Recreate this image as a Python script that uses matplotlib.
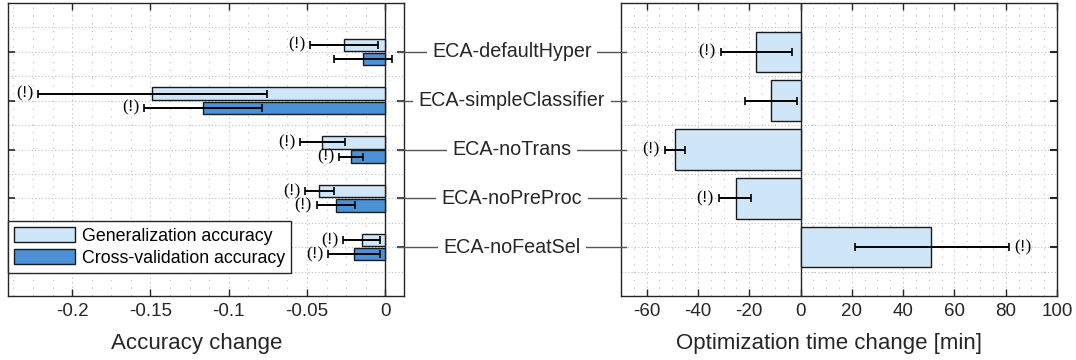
import numpy as np
import matplotlib
matplotlib.use("Agg")
import matplotlib.pyplot as plt
from matplotlib.patches import Patch
from matplotlib.lines import Line2D

plt.rcParams['font.family'] = ['Liberation Sans', 'DejaVu Sans']
plt.rcParams['axes.unicode_minus'] = False

# ====== data ======
categories = ["ECA-defaultHyper", "ECA-simpleClassifier", "ECA-noTrans",
              "ECA-noPreProc", "ECA-noFeatSel"]

# accuracy change (generalization / cross-validation), with CI bounds
gen_acc = [-0.0263, -0.1487, -0.0402, -0.0421, -0.0149]
gen_lo  = [-0.0480, -0.2216, -0.0545, -0.0513, -0.0267]
gen_hi  = [-0.0045, -0.0758, -0.0256, -0.0325, -0.0032]
gen_flag = [True, True, True, True, True]

cv_acc = [-0.0143, -0.1167, -0.0218, -0.0314, -0.0199]
cv_lo  = [-0.0330, -0.1540, -0.0293, -0.0438, -0.0363]
cv_hi  = [0.0043, -0.0790, -0.0143, -0.0192, -0.0032]
cv_flag = [False, True, True, True, True]

# optimization time change [min]
time_chg = [-17.3, -11.4, -49.0, -25.3, 51.0]
time_lo  = [-31.2, -21.5, -52.9, -31.8, 21.2]
time_hi  = [-3.5, -1.2, -45.1, -19.3, 81.3]
time_flag = [True, False, True, True, True]

acc_ticks = [-0.2, -0.15, -0.1, -0.05, 0]
acc_ticklabels = ["-0.2", "-0.15", "-0.1", "-0.05", "0"]
time_ticks = [-60, -40, -20, 0, 20, 40, 60, 80, 100]

# ====== style ======
c_light = "#cfe5f8"
c_dark = "#4a91d7"
c_edge = "#1a1a1a"
c_axis = "#262626"
c_grid = "#bdbdbd"

fig = plt.figure(figsize=(10.76, 3.6), dpi=100)
axL = fig.add_axes([8/1076, 1-296/360, 396/1076, 293/360])
axR = fig.add_axes([621/1076, 1-296/360, 436/1076, 293/360])

y = np.arange(1, len(categories)+1)


def setup(ax, xlim, xticks, minor_step, ytick_side):
    ax.set_xticks(xticks)
    ax.set_xticks(np.arange(xticks[0]-minor_step*8, xticks[-1]+minor_step*8, minor_step), minor=True)
    ax.set_yticks(y)
    ax.set_yticks(np.arange(0.5, 6, 1.0), minor=True)
    ax.set_yticklabels([])
    ax.set_xlim(*xlim)
    ax.set_ylim(6, 0)
    # MATLAB-like grid: dotted major lines, sparse-dotted minor lines
    ax.xaxis.grid(True, which='major', linestyle=(0, (1, 3)), color=c_grid, linewidth=0.8)
    ax.xaxis.grid(True, which='minor', linestyle=(0, (1, 6)), color=c_grid, linewidth=0.8)
    ax.yaxis.grid(True, which='both', linestyle=(0, (1, 2)), color=c_grid, linewidth=0.8)
    ax.set_axisbelow(True)
    for s in ax.spines.values():
        s.set_color(c_axis)
        s.set_linewidth(1.0)
    ax.tick_params(axis='x', which='major', direction='in', top=True, bottom=True,
                   length=5, width=1, color=c_axis, labelcolor=c_axis, labelsize=13.5, pad=5)
    ax.tick_params(axis='x', which='minor', length=0)
    ax.tick_params(axis='y', which='minor', length=0)
    if ytick_side == 'left':
        ax.tick_params(axis='y', which='major', direction='in', left=True, right=True,
                       length=5, width=1.2, color=c_axis)
    else:
        ax.tick_params(axis='y', which='major', direction='in', left=False, right=True,
                       length=5, width=1.5, color=c_axis)
    ax.axvline(0, color=c_axis, linewidth=1.0, zorder=1.5)


setup(axL, (-0.241, 0.012), acc_ticks, 0.0125, 'left')
setup(axR, (-70, 100), time_ticks, 5, 'right')
axL.set_xticklabels(acc_ticklabels)

ekw = dict(ecolor='black', elinewidth=1.4, capsize=3, capthick=1.2)
bh = 0.25
off = 0.145

# left: accuracy change
g = np.array(gen_acc)
c = np.array(cv_acc)
axL.barh(y - off, g, height=bh, color=c_light, edgecolor=c_edge, linewidth=1.0, zorder=2)
axL.barh(y + off, c, height=bh, color=c_dark, edgecolor=c_edge, linewidth=1.0, zorder=2)
axL.errorbar(g, y - off, xerr=[g - np.array(gen_lo), np.array(gen_hi) - g], fmt='none', zorder=3, **ekw)
axL.errorbar(c, y + off, xerr=[c - np.array(cv_lo), np.array(cv_hi) - c], fmt='none', zorder=3, **ekw)

tkw = dict(fontsize=12.5, family=['Liberation Serif', 'DejaVu Serif'], color='black', va='center')
for i in range(len(categories)):
    if gen_flag[i]:
        axL.text(gen_lo[i] - 0.003, y[i] - off, "(!)", ha='right', **tkw)
    if cv_flag[i]:
        axL.text(cv_lo[i] - 0.003, y[i] + off, "(!)", ha='right', **tkw)

# right: optimization time change
t = np.array(time_chg)
axR.barh(y, t, height=0.83, color=c_light, edgecolor=c_edge, linewidth=1.0, zorder=2)
axR.errorbar(t, y, xerr=[t - np.array(time_lo), np.array(time_hi) - t], fmt='none', zorder=3, **ekw)
for i in range(len(categories)):
    if time_flag[i]:
        if time_chg[i] < 0:
            axR.text(time_lo[i] - 2, y[i], "(!)", ha='right', **tkw)
        else:
            axR.text(time_hi[i] + 2, y[i], "(!)", ha='left', **tkw)

axL.set_xlabel("Accuracy change", fontsize=16, color=c_axis)
axR.set_xlabel("Optimization time change [min]", fontsize=16, color=c_axis)
axL.xaxis.set_label_coords(0.477, -0.125)
axR.xaxis.set_label_coords(0.477, -0.125)

handles = [Patch(facecolor=c_light, edgecolor=c_edge, linewidth=1.0, label="Generalization accuracy"),
           Patch(facecolor=c_dark, edgecolor=c_edge, linewidth=1.0, label="Cross-validation accuracy")]
leg = axL.legend(handles=handles, loc='lower left', bbox_to_anchor=(0.0, 0.078), fontsize=12.8,
                 frameon=True, fancybox=False, edgecolor=c_axis, framealpha=1,
                 handlelength=3.4, handleheight=0.9, handletextpad=0.4,
                 borderpad=0.35, labelspacing=0.25, borderaxespad=0.0)
leg.get_frame().set_linewidth(1.0)

# category labels between the two panels, with connector lines
fig.canvas.draw()
for i, name in enumerate(categories):
    yd = axL.transData.transform((0, y[i]))[1]
    yf = yd / fig.bbox.height
    fig.add_artist(Line2D([398/1076, 626/1076], [yf, yf], color='#555555', linewidth=1.0, zorder=1))
    fig.text(512/1076, yf, name, ha='center', va='center', fontsize=14.2, color=c_axis, zorder=2,
             bbox=dict(facecolor='white', edgecolor='none', pad=4))

fig.savefig("out.png", dpi=100)
